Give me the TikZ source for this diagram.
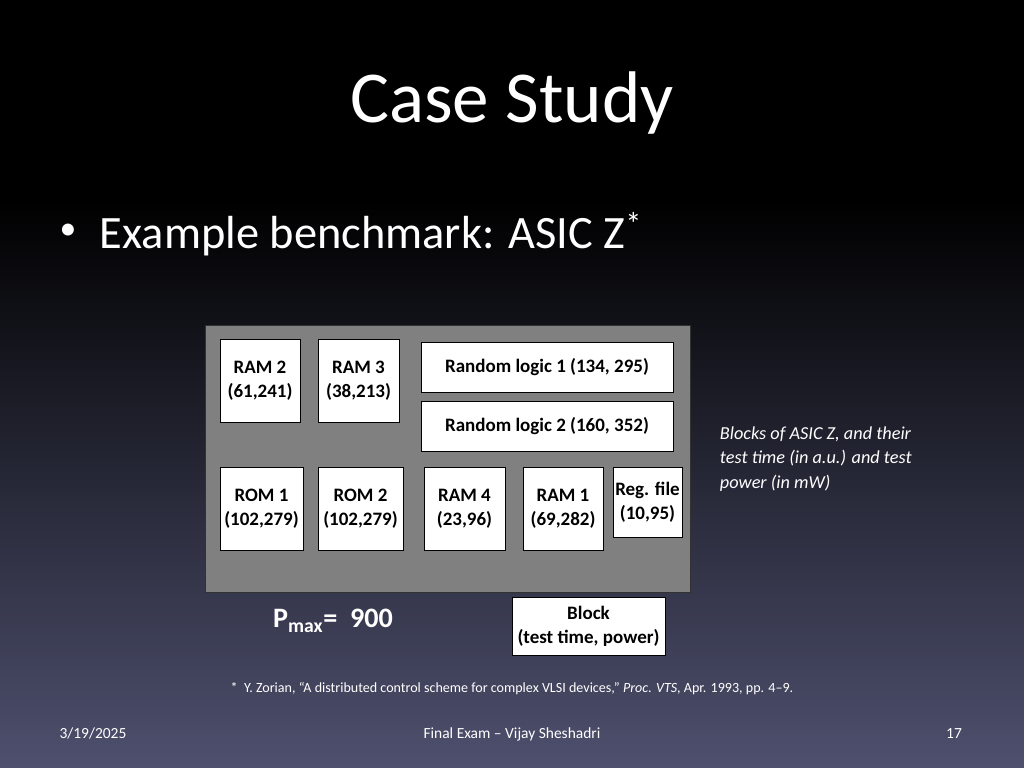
\documentclass[tikz,border=0pt]{standalone}
\usepackage{fontspec}
\setmainfont{Carlito}
\begin{document}
\begin{tikzpicture}[x=0.025cm,y=-0.025cm,
  blk/.style={draw=black,fill=white,inner sep=0pt,align=center,font=\fontsize{13.5}{17}\selectfont\bfseries}]
\useasboundingbox (0,0) rectangle (1024,768);
\fill[black] (0,0) rectangle (1024,200);
\shade[top color=black,bottom color={rgb,255:red,78;green,80;blue,110}] (0,199) rectangle (1024,768);
\node[white,font=\fontsize{52}{58}\selectfont] (title) at (512,103) {Case Study};
\node[white,font=\fontsize{24}{28}\selectfont] (dot) at (68,232) {\textbullet};
\node[white,anchor=west,font=\fontsize{33}{38}\selectfont] (bul) at (95,234) {Example benchmark: ASIC Z\textsuperscript{*}};
\draw[fill={rgb,255:red,128;green,128;blue,128},draw={rgb,255:red,50;green,50;blue,50}] (205,325) rectangle (690,592);
\node[blk,minimum width=80*0.025cm,minimum height=83*0.025cm] (ram2) at (260,380.5) {RAM 2\\(61,241)};
\node[blk,minimum width=81*0.025cm,minimum height=83*0.025cm] (ram3) at (358.5,380.5) {RAM 3\\(38,213)};
\node[blk,minimum width=252*0.025cm,minimum height=50*0.025cm] (rl1) at (547,367) {Random logic 1 (134, 295)};
\node[blk,minimum width=252*0.025cm,minimum height=50*0.025cm] (rl2) at (547,426) {Random logic 2 (160, 352)};
\node[blk,minimum width=83*0.025cm,minimum height=83*0.025cm] (rom1) at (261.5,508.5) {ROM 1\\(102,279)};
\node[blk,minimum width=85*0.025cm,minimum height=83*0.025cm] (rom2) at (360.5,508.5) {ROM 2\\(102,279)};
\node[blk,minimum width=81*0.025cm,minimum height=83*0.025cm] (ram4) at (464.5,508.5) {RAM 4\\(23,96)};
\node[blk,minimum width=80*0.025cm,minimum height=83*0.025cm] (ram1) at (563,508.5) {RAM 1\\(69,282)};
\node[blk,minimum width=69*0.025cm,minimum height=70*0.025cm] (reg) at (647.5,502) {Reg. file\\(10,95)};
\node[blk,minimum width=153*0.025cm,minimum height=58*0.025cm] (blk) at (588.5,626) {Block\\(test time, power)};
\node[white,font=\fontsize{20}{24}\selectfont\bfseries] (pmax) at (333,621) {P\textsubscript{max}= \ 900};
\node[white,anchor=west,align=left,font=\fontsize{13}{17.5}\selectfont\itshape] (desc) at (715,459) {Blocks of ASIC Z, and their\\test time (in a.u.) and test\\power (in mW)};
\node[white,font=\fontsize{10}{12}\selectfont] (fn) at (512,689) {*\ \ Y. Zorian, ``A distributed control scheme for complex VLSI devices,'' \textit{Proc. VTS}, Apr. 1993, pp. 4--9.};
\node[white,anchor=base,font=\fontsize{11}{13}\selectfont] (date) at (93,738) {3/19/2025};
\node[white,anchor=base,font=\fontsize{11}{13}\selectfont] (foot) at (512,738) {Final Exam -- Vijay Sheshadri};
\node[white,anchor=base,font=\fontsize{11}{13}\selectfont] (pg) at (954,738) {17};
\end{tikzpicture}
\end{document}
